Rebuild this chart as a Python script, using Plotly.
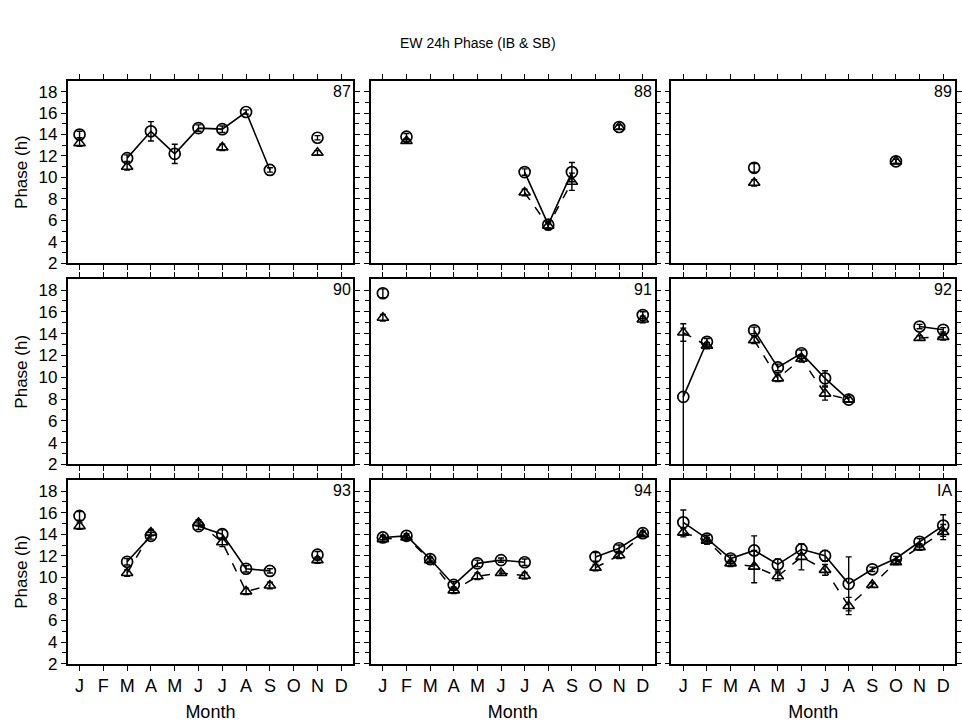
import plotly.graph_objects as go

# Month axis
months = list(range(1, 13))
month_letters = ["J", "F", "M", "A", "M", "J", "J", "A", "S", "O", "N", "D"]

# Panel labels (years and the inter-annual average)
panel_labels = ["87", "88", "89", "90", "91", "92", "93", "94", "IA"]

N = None

# IB phase (circles), hours; None where no observation
ib_87 = [14.0, N, 11.8, 14.3, 12.2, 14.6, 14.5, 16.1, 10.7, N, 13.7, N]
ib_88 = [N, 13.8, N, N, N, N, 10.5, 5.6, 10.5, N, 14.7, N]
ib_89 = [N, N, N, 10.9, N, N, N, N, N, 11.5, N, N]
ib_90 = [N] * 12
ib_91 = [17.7, N, N, N, N, N, N, N, N, N, N, 15.7]
ib_92 = [8.2, 13.25, N, 14.3, 10.9, 12.2, 9.9, 7.95, N, N, 14.65, 14.35]
ib_93 = [15.7, N, 11.45, 13.85, N, 14.75, 14.0, 10.8, 10.6, N, 12.1, N]
ib_94 = [13.7, 13.85, 11.7, 9.3, 11.3, 11.6, 11.4, N, N, 11.9, 12.7, 14.1]
ib_ia = [15.1, 13.6, 11.75, 12.5, 11.2, 12.6, 12.0, 9.4, 10.75, 11.75, 13.3, 14.8]

# SB phase (triangles), hours
sb_87 = [13.2, N, 11.0, N, N, N, 12.8, N, N, N, 12.3, N]
sb_88 = [N, 13.4, N, N, N, N, 8.6, 5.5, 9.6, N, 14.7, N]
sb_89 = [N, N, N, 9.5, N, N, N, N, N, 11.5, N, N]
sb_90 = [N] * 12
sb_91 = [15.45, N, N, N, N, N, N, N, N, N, N, 15.3]
sb_92 = [14.1, 12.9, N, 13.4, 9.9, 11.7, 8.5, 7.95, N, N, 13.6, 13.7]
sb_93 = [14.75, N, 10.4, 14.15, N, 15.05, 13.25, 8.7, 9.25, N, 11.6, N]
sb_94 = [13.55, 13.7, 11.6, 8.8, 10.1, 10.4, 10.15, N, N, 10.9, 12.05, 14.0]
sb_ia = [14.15, 13.4, 11.3, 11.0, 10.1, 11.9, 10.7, 7.35, 9.3, 11.4, 12.8, 14.2]

# Error bar half-widths, hours
ib_err_87 = [0.3, 0, 0.3, 0.9, 0.9, 0.3, 0.3, 0.2, 0.2, 0, 0.2, 0]
ib_err_88 = [0, 0.3, 0, 0, 0, 0, 0.3, 0.3, 0.9, 0, 0.2, 0]
ib_err_89 = [0, 0, 0, 0.4, 0, 0, 0, 0, 0, 0.2, 0, 0]
ib_err_90 = [0] * 12
ib_err_91 = [0.4, 0, 0, 0, 0, 0, 0, 0, 0, 0, 0, 0.3]
ib_err_92 = [6.3, 0.3, 0, 0.3, 0.3, 0.3, 0.7, 0.2, 0, 0, 0.2, 0.2]
ib_err_93 = [0.4, 0, 0.3, 0.3, 0, 0.3, 0.4, 0.3, 0.2, 0, 0.3, 0]
ib_err_94 = [0.2, 0.2, 0.2, 0.3, 0.3, 0.2, 0.3, 0, 0, 0.4, 0.3, 0.2]
ib_err_ia = [1.15, 0.3, 0.3, 1.35, 0.5, 0.5, 0.5, 2.5, 0.2, 0.2, 0.3, 1.0]

sb_err_87 = [0.3, 0, 0.3, 0, 0, 0, 0.3, 0, 0, 0, 0.2, 0]
sb_err_88 = [0, 0.2, 0, 0, 0, 0, 0.3, 0.3, 0.8, 0, 0.2, 0]
sb_err_89 = [0, 0, 0, 0.3, 0, 0, 0, 0, 0, 0.2, 0, 0]
sb_err_90 = [0] * 12
sb_err_91 = [0.3, 0, 0, 0, 0, 0, 0, 0, 0, 0, 0, 0.3]
sb_err_92 = [0.8, 0.3, 0, 0.3, 0.3, 0.3, 0.6, 0.2, 0, 0, 0.2, 0.3]
sb_err_93 = [0.3, 0, 0.3, 0.3, 0, 0.3, 0.4, 0.3, 0.3, 0, 0.3, 0]
sb_err_94 = [0.2, 0.2, 0.2, 0.3, 0.3, 0.2, 0.3, 0, 0, 0.3, 0.3, 0.2]
sb_err_ia = [0.4, 0.3, 0.3, 1.5, 0.4, 1.2, 0.5, 0.8, 0.2, 0.2, 0.3, 0.7]

ib_all = [ib_87, ib_88, ib_89, ib_90, ib_91, ib_92, ib_93, ib_94, ib_ia]
sb_all = [sb_87, sb_88, sb_89, sb_90, sb_91, sb_92, sb_93, sb_94, sb_ia]
ib_err_all = [ib_err_87, ib_err_88, ib_err_89, ib_err_90, ib_err_91,
              ib_err_92, ib_err_93, ib_err_94, ib_err_ia]
sb_err_all = [sb_err_87, sb_err_88, sb_err_89, sb_err_90, sb_err_91,
              sb_err_92, sb_err_93, sb_err_94, sb_err_ia]

W, H = 962, 724
FONT = "Liberation Sans, Arial, sans-serif"

# Panel frames in pixels: (left, right) per column, (top, bottom) per row
col_px = [(68, 355), (373, 658), (675, 960)]
row_px = [(82, 267), (283, 471), (487, 673)]

fig = go.Figure()
layout = dict(
    width=W, height=H,
    margin=dict(l=0, r=0, t=0, b=0),
    paper_bgcolor="white", plot_bgcolor="white",
    showlegend=False,
    font=dict(family=FONT, color="black"),
)

annotations = [
    dict(text="EW 24h Phase (IB & SB)", xref="paper", yref="paper",
         x=480 / W, y=1 - 44 / H, xanchor="center", yanchor="middle",
         showarrow=False, font=dict(size=14, family=FONT)),
]

for i in range(9):
    r, c = divmod(i, 3)
    n = i + 1
    xa = "xaxis" if n == 1 else f"xaxis{n}"
    ya = "yaxis" if n == 1 else f"yaxis{n}"
    xr = "x" if n == 1 else f"x{n}"
    yr = "y" if n == 1 else f"y{n}"

    x0, x1 = col_px[c]
    t0, b0 = row_px[r]
    bottom = (r == 2)
    left = (c == 0)

    layout[xa] = dict(
        domain=[x0 / W, x1 / W], anchor=yr, range=[0.5, 12.5],
        tickmode="array", tickvals=months,
        ticktext=month_letters if bottom else [""] * 12,
        showticklabels=bottom,
        ticks="outside", ticklen=5, tickwidth=1.3, tickcolor="black",
        showline=True, linecolor="black", linewidth=1.8, mirror="allticks",
        showgrid=False, zeroline=False,
        tickfont=dict(size=18, family=FONT),
        title=dict(text="Month", font=dict(size=18, family=FONT), standoff=10) if bottom else None,
    )
    layout[ya] = dict(
        domain=[1 - b0 / H, 1 - t0 / H], anchor=xr, range=[2, 19],
        tickmode="array", tickvals=list(range(2, 19, 2)),
        showticklabels=left,
        ticks="outside", ticklen=5, tickwidth=1.3, tickcolor="black",
        minor=dict(tickvals=list(range(3, 19, 2)), ticks="outside",
                   ticklen=4, tickwidth=1.1, tickcolor="black"),
        showline=True, linecolor="black", linewidth=1.8, mirror="allticks",
        showgrid=False, zeroline=False,
        tickfont=dict(size=17, family=FONT),
        title=dict(text="Phase (h)", font=dict(size=17, family=FONT), standoff=6) if left else None,
    )

    annotations.append(dict(
        text=panel_labels[i], xref=f"{xr} domain", yref=f"{yr} domain",
        x=0.998, y=1.0, xanchor="right", yanchor="top", showarrow=False,
        font=dict(size=16, family=FONT),
    ))

    # SB: open triangles, dashed line
    fig.add_trace(go.Scatter(
        x=months, y=sb_all[i], xaxis=xr, yaxis=yr,
        mode="lines+markers", connectgaps=False,
        line=dict(color="black", width=1.5, dash="dash"),
        marker=dict(symbol="triangle-up-open", size=10, color="black",
                    line=dict(width=1.6, color="black")),
        error_y=dict(type="data", array=sb_err_all[i], visible=True,
                     color="black", thickness=1.4, width=3),
    ))
    # IB: open circles, solid line
    fig.add_trace(go.Scatter(
        x=months, y=ib_all[i], xaxis=xr, yaxis=yr,
        mode="lines+markers", connectgaps=False,
        line=dict(color="black", width=1.6),
        marker=dict(symbol="circle-open", size=11, color="black",
                    line=dict(width=1.7, color="black")),
        error_y=dict(type="data", array=ib_err_all[i], visible=True,
                     color="black", thickness=1.4, width=3),
    ))

layout["annotations"] = annotations
fig.update_layout(**layout)
fig.write_html("out.html")
